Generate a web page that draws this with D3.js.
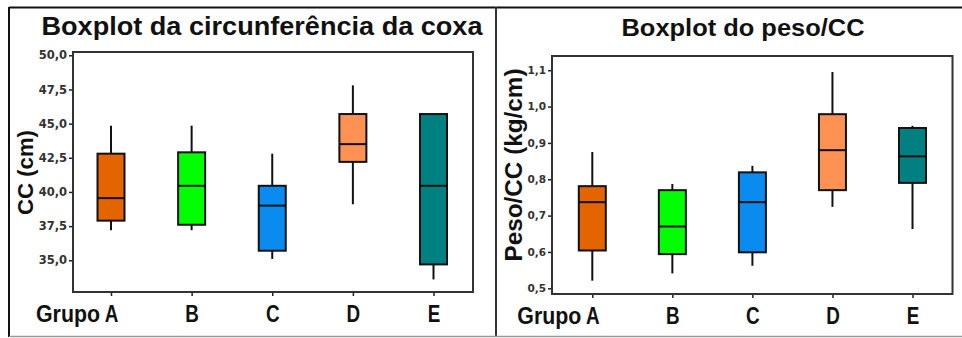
<!DOCTYPE html>
<html>
<head>
<meta charset="utf-8">
<script src="https://cdn.jsdelivr.net/npm/d3@7"></script>
<style>
  html, body { margin: 0; padding: 0; background: #fff; }
  svg { display: block; }
</style>
</head>
<body>
<svg id="chart" width="962" height="338"></svg>
<script>
// ---------- data ----------
const categories = ["A", "B", "C", "D", "E"];
const groupColors = ["#E46400", "#00FF00", "#0A8BEF", "#FF9153", "#008080"];

// Circunferência da coxa (cm)
const ccMin    = [37.2, 37.2, 35.1, 39.1, 33.6];
const ccQ1     = [37.9, 37.6, 35.7, 42.2, 34.7];
const ccMedian = [39.55, 40.45, 39.0, 43.5, 40.45];
const ccQ3     = [42.8, 42.9, 40.45, 45.7, 45.7];
const ccMax    = [44.85, 44.85, 42.8, 47.8, 45.7];
const ccTicks  = [35, 37.5, 40, 42.5, 45, 47.5, 50];

// Peso/CC (kg/cm)
const pesoMin    = [0.521, 0.541, 0.562, 0.724, 0.663];
const pesoQ1     = [0.604, 0.594, 0.599, 0.770, 0.790];
const pesoMedian = [0.737, 0.670, 0.737, 0.880, 0.863];
const pesoQ3     = [0.781, 0.770, 0.819, 0.979, 0.941];
const pesoMax    = [0.875, 0.787, 0.837, 1.095, 0.947];
const pesoTicks  = [0.5, 0.6, 0.7, 0.8, 0.9, 1.0, 1.1];

const titles = ["Boxplot da circunferência da coxa", "Boxplot do peso/CC"];
const yTitles = ["CC (cm)", "Peso/CC (kg/cm)"];
const groupWord = "Grupo";

// ---------- drawing ----------
const svg = d3.select("#chart");
const ptLocale = d3.formatLocale({decimal: ",", thousands: ".", grouping: [3], currency: ["R$", ""]});
const fmt1 = ptLocale.format(".1f");

const LABEL_FONT = "'Liberation Sans Narrow', 'Arial Narrow', 'Liberation Sans', Arial, sans-serif";
const TITLE_FONT = "'Liberation Sans', Arial, sans-serif";
const TICK_FONT = "'DejaVu Sans', Verdana, sans-serif";

// outer frame
svg.append("line").attr("x1", 9).attr("x2", 962).attr("y1", 7.5).attr("y2", 7.5)
  .attr("stroke", "#111").attr("stroke-width", 2);
svg.append("line").attr("x1", 9).attr("x2", 9).attr("y1", 7).attr("y2", 337)
  .attr("stroke", "#111").attr("stroke-width", 2);
svg.append("line").attr("x1", 496).attr("x2", 496).attr("y1", 7).attr("y2", 337)
  .attr("stroke", "#333").attr("stroke-width", 2);
svg.append("line").attr("x1", 9).attr("x2", 962).attr("y1", 336.5).attr("y2", 336.5)
  .attr("stroke", "#999").attr("stroke-width", 1.5);

function panel(cfg) {
  const g = svg.append("g");
  const x = d3.scalePoint().domain(categories).range([cfg.xA, cfg.xE]);
  const y = d3.scaleLinear().domain(cfg.domain).range([cfg.bottom, cfg.top]);
  const bw = 27;

  // title
  g.append("text")
    .attr("x", cfg.titleX).attr("y", cfg.titleY)
    .attr("text-anchor", "middle")
    .attr("font-family", TITLE_FONT).attr("font-weight", "bold")
    .attr("font-size", cfg.titleSize)
    .attr("textLength", cfg.titleLen).attr("lengthAdjust", "spacingAndGlyphs")
    .attr("fill", "#111")
    .text(cfg.title);

  // y axis title
  g.append("text")
    .attr("transform", `translate(${cfg.yTitleX},${cfg.yTitleY}) rotate(-90)`)
    .attr("text-anchor", "middle")
    .attr("font-family", TITLE_FONT).attr("font-weight", "bold")
    .attr("font-size", cfg.yTitleSize)
    .attr("textLength", cfg.yTitleLen).attr("lengthAdjust", "spacingAndGlyphs")
    .attr("fill", "#111")
    .text(cfg.yTitle);

  // y axis
  const ya = g.append("g")
    .attr("transform", `translate(${cfg.left},0)`)
    .call(d3.axisLeft(y).tickValues(cfg.ticks).tickSize(4).tickPadding(2).tickFormat(fmt1));
  ya.select(".domain").remove();
  ya.selectAll(".tick line").attr("stroke", "#222").attr("stroke-width", 1.5);
  ya.selectAll(".tick text")
    .attr("font-family", TICK_FONT).attr("font-weight", "bold")
    .attr("font-size", cfg.tickSize).attr("fill", "#333");

  // x axis
  const xa = g.append("g")
    .attr("transform", `translate(0,${cfg.bottom})`)
    .call(d3.axisBottom(x).tickSize(4).tickPadding(0));
  xa.select(".domain").remove();
  xa.selectAll(".tick line").attr("stroke", "#222").attr("stroke-width", 1.5);
  xa.selectAll(".tick text")
    .attr("y", 30).attr("dy", 0)
    .attr("transform", "scale(0.82,1)")
    .attr("font-family", LABEL_FONT).attr("font-weight", "bold")
    .attr("font-size", 23).attr("fill", "#111");

  g.append("text")
    .attr("x", x(categories[0]) - 11).attr("y", cfg.bottom + 30)
    .attr("text-anchor", "end")
    .attr("textLength", 64).attr("lengthAdjust", "spacingAndGlyphs")
    .attr("font-family", LABEL_FONT).attr("font-weight", "bold")
    .attr("font-size", 23).attr("fill", "#111")
    .text(groupWord);

  // frame
  g.append("rect")
    .attr("x", cfg.left).attr("y", cfg.top)
    .attr("width", cfg.right - cfg.left).attr("height", cfg.bottom - cfg.top)
    .attr("fill", "none").attr("stroke", "#333").attr("stroke-width", 2);

  // boxes
  const idx = d3.range(categories.length);
  const bx = g.append("g");
  bx.selectAll("line.whisker").data(idx).join("line")
    .attr("class", "whisker")
    .attr("x1", i => x(categories[i])).attr("x2", i => x(categories[i]))
    .attr("y1", i => y(cfg.max[i])).attr("y2", i => y(cfg.min[i]))
    .attr("stroke", "#111").attr("stroke-width", 2);
  bx.selectAll("rect.box").data(idx).join("rect")
    .attr("class", "box")
    .attr("x", i => x(categories[i]) - bw / 2)
    .attr("y", i => y(cfg.q3[i]))
    .attr("width", bw)
    .attr("height", i => y(cfg.q1[i]) - y(cfg.q3[i]))
    .attr("fill", i => groupColors[i])
    .attr("stroke", "#111").attr("stroke-width", 2);
  bx.selectAll("line.median").data(idx).join("line")
    .attr("class", "median")
    .attr("x1", i => x(categories[i]) - bw / 2).attr("x2", i => x(categories[i]) + bw / 2)
    .attr("y1", i => y(cfg.med[i])).attr("y2", i => y(cfg.med[i]))
    .attr("stroke", "#111").attr("stroke-width", 2);
}

panel({
  title: titles[0], titleX: 262, titleY: 35, titleSize: 25, titleLen: 441,
  yTitle: yTitles[0], yTitleX: 33, yTitleY: 172.5, yTitleSize: 22, yTitleLen: 85,
  left: 73, right: 473, top: 52, bottom: 292,
  xA: 111, xE: 433.5,
  domain: [32.68, 50.24], ticks: ccTicks, tickSize: 11.5,
  min: ccMin, q1: ccQ1, med: ccMedian, q3: ccQ3, max: ccMax
});

panel({
  title: titles[1], titleX: 743, titleY: 36, titleSize: 24, titleLen: 243,
  yTitle: yTitles[1], yTitleX: 522, yTitleY: 165, yTitleSize: 23, yTitleLen: 193,
  left: 552, right: 952.5, top: 56, bottom: 294,
  xA: 592.3, xE: 912.5,
  domain: [0.4843, 1.1391], ticks: pesoTicks, tickSize: 10.5,
  min: pesoMin, q1: pesoQ1, med: pesoMedian, q3: pesoQ3, max: pesoMax
});
</script>
</body>
</html>
